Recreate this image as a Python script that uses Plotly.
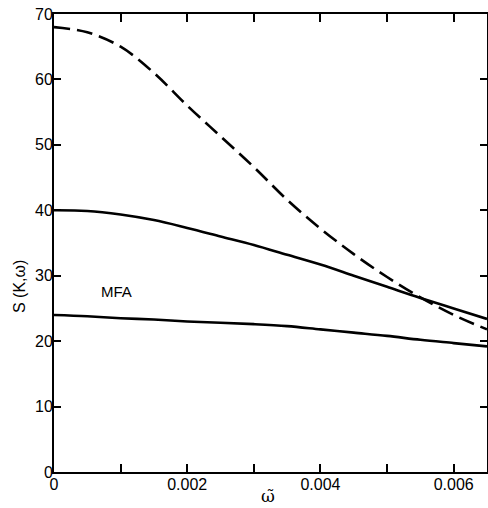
import plotly.graph_objects as go

# Data
omega = [0.0, 0.0005, 0.001, 0.0015, 0.002, 0.0025, 0.003, 0.0035,
         0.004, 0.0045, 0.005, 0.0055, 0.006, 0.0065]
s_dashed = [68.0, 67.2, 65.0, 61.0, 56.0, 51.3, 46.6, 41.6,
            37.2, 33.3, 29.8, 26.7, 24.0, 21.8]
s_upper = [40.0, 39.9, 39.35, 38.5, 37.3, 36.0, 34.7, 33.2,
           31.7, 30.0, 28.3, 26.6, 25.0, 23.4]
s_mfa = [24.0, 23.8, 23.5, 23.3, 23.0, 22.8, 22.6, 22.3,
         21.8, 21.3, 20.8, 20.2, 19.7, 19.2]

x_tickvals = [0, 0.001, 0.002, 0.003, 0.004, 0.005, 0.006]
x_ticktext = ["0", "", "0.002", "", "0.004", "", "0.006"]
y_tickvals = [0, 10, 20, 30, 40, 50, 60, 70]
y_ticktext = ["0", "10", "20", "30", "40", "50", "60", "70"]

FONT = "Liberation Sans"
W, H = 488, 508
ML, MR, MT, MB = 54, 1, 14, 36
plot_w = W - ML - MR
plot_h = H - MT - MB


def px_x(p):
    return (p - ML) / plot_w


def px_y(p):
    return (H - MB - p) / plot_h


fig = go.Figure()
fig.add_trace(go.Scatter(x=omega, y=s_dashed, mode="lines",
                         line=dict(color="black", width=2.6, dash="16px,7px", shape="spline"),
                         showlegend=False))
fig.add_trace(go.Scatter(x=omega, y=s_upper, mode="lines",
                         line=dict(color="black", width=2.6, shape="spline"),
                         showlegend=False))
fig.add_trace(go.Scatter(x=omega, y=s_mfa, mode="lines",
                         line=dict(color="black", width=2.6, shape="spline"),
                         showlegend=False))

fig.update_layout(
    width=W, height=H,
    margin=dict(l=ML, r=MR, t=MT, b=MB),
    paper_bgcolor="white", plot_bgcolor="white",
    font=dict(family=FONT, color="black", size=16),
    xaxis=dict(range=[0, 0.0065], tickvals=x_tickvals, ticktext=x_ticktext,
               ticks="inside", ticklen=8, tickwidth=2, tickcolor="black",
               showline=True, linecolor="black", linewidth=2, mirror="ticks",
               showgrid=False, zeroline=False, tickfont=dict(size=16),
               ticklabelstandoff=-3, automargin=False),
    yaxis=dict(range=[0, 70], tickvals=y_tickvals, ticktext=y_ticktext,
               ticks="inside", ticklen=7, tickwidth=2, tickcolor="black",
               showline=True, linecolor="black", linewidth=2, mirror="ticks",
               showgrid=False, zeroline=False, tickfont=dict(size=16),
               ticklabelstandoff=-4, automargin=False),
    annotations=[
        dict(text="MFA", x=0.00094, y=27.6, xref="x", yref="y",
             showarrow=False, font=dict(size=15)),
        dict(text="S (K,ω)", x=px_x(19), y=px_y(287), xref="paper", yref="paper",
             xanchor="center", yanchor="middle",
             showarrow=False, textangle=-90, font=dict(size=16)),
        dict(text="ω̃", x=px_x(268), y=px_y(508), xref="paper", yref="paper",
             xanchor="center", yanchor="bottom",
             showarrow=False, font=dict(size=17, family="DejaVu Serif")),
    ],
)

fig.write_html("out.html",
               config={"displayModeBar": False},
               post_script="document.body.style.margin='0';document.body.style.padding='0';")
